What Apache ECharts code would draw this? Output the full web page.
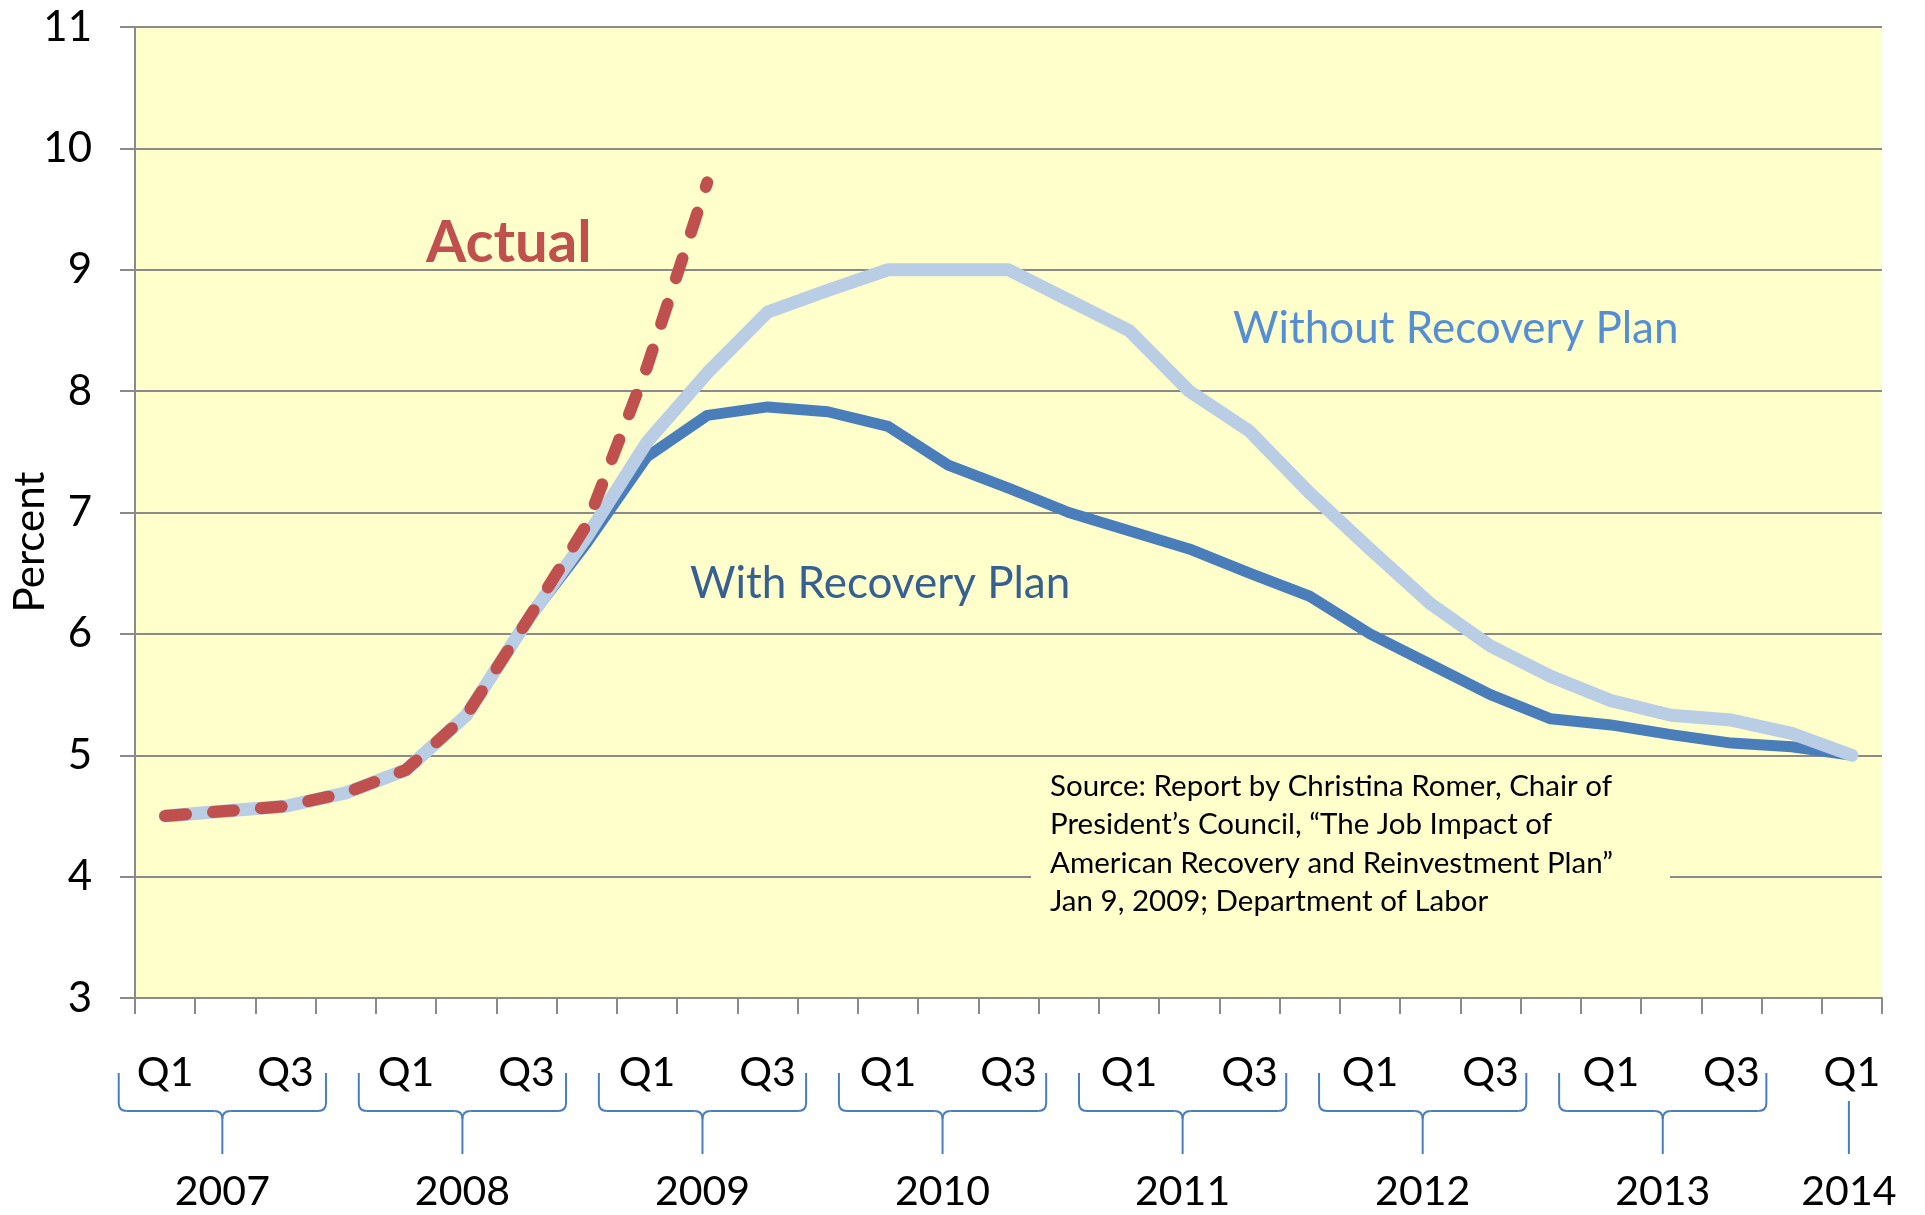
<!DOCTYPE html>
<html>
<head>
<meta charset="utf-8">
<script src="https://cdn.jsdelivr.net/npm/echarts@6/dist/echarts.min.js"></script>
<style>
  html, body { margin: 0; padding: 0; background: #fff; }
  #chart { width: 1925px; height: 1215px; }
</style>
</head>
<body>
<div id="chart"></div>
<script>
// quarters, 2007 Q1 .. 2014 Q1
const categories = [
  '2007 Q1', '2007 Q2', '2007 Q3', '2007 Q4',
  '2008 Q1', '2008 Q2', '2008 Q3', '2008 Q4',
  '2009 Q1', '2009 Q2', '2009 Q3', '2009 Q4',
  '2010 Q1', '2010 Q2', '2010 Q3', '2010 Q4',
  '2011 Q1', '2011 Q2', '2011 Q3', '2011 Q4',
  '2012 Q1', '2012 Q2', '2012 Q3', '2012 Q4',
  '2013 Q1', '2013 Q2', '2013 Q3', '2013 Q4',
  '2014 Q1'
]

// unemployment rate, percent
const withoutPlan = [
  4.5, 4.54, 4.58, 4.69, 4.88, 5.33, 6.1, 6.8,
  7.58, 8.15, 8.65, 8.83, 9.0, 9.0, 9.0, 8.75,
  8.5, 8.0, 7.67, 7.16, 6.7, 6.25, 5.9, 5.65,
  5.45, 5.33, 5.29, 5.18, 5.0
]
const withPlan = [
  4.5, 4.54, 4.58, 4.69, 4.88, 5.33, 6.1, 6.75,
  7.46, 7.8, 7.87, 7.83, 7.71, 7.39, 7.2, 7.0,
  6.85, 6.7, 6.5, 6.31, 6.0, 5.75, 5.5, 5.3,
  5.25, 5.17, 5.1, 5.07, 5.0
]
const actual = [4.5, 4.54, 4.58, 4.69, 4.88, 5.33, 6.1, 6.9, 8.2, 9.72]

// year labels under the quarter labels (anchor quarter, has brace)
const yearNames = ['2007', '2008', '2009', '2010', '2011', '2012', '2013', '2014']
const yearAnchors = ['2007 Q2', '2008 Q2', '2009 Q2', '2010 Q2', '2011 Q2', '2012 Q2', '2013 Q2', '2014 Q1']
const yearBraces = [1, 1, 1, 1, 1, 1, 1, 0]

const sourceLines = [
  'Source: Report by Christina Romer, Chair of',
  'President\u2019s Council, \u201cThe Job Impact of',
  'American Recovery and Reinvestment Plan\u201d',
  'Jan 9, 2009; Department of Labor'
]

const FONT = 'Lato, "Open Sans", sans-serif'
const GRAY = '#8a8a8a'
const BRACE = '#4A7EBB'

const renderYear = (params, api) => {
  const p = api.coord([api.value(0), 3])
  const w = api.size([1, 0])[0]
  const y0 = p[1]
  const top = y0 + 75
  const mid = y0 + 113
  const tip = y0 + 156
  const r = 8
  const st = { stroke: BRACE, lineWidth: 2, fill: null }
  if (!api.value(2)) {
    const x = p[0] - 3
    return {
      type: 'group',
      children: [
        { type: 'line', shape: { x1: x, y1: y0 + 103, x2: x, y2: tip }, style: st },
        yearText(params.dataIndex, x, y0)
      ]
    }
  }
  // excel's brace sits a touch left of the Q2 centre
  const cx = p[0] - 0.05 * w - 0.9 * params.dataIndex
  const L = cx - 1.72 * w
  const R = cx + 1.72 * w
  return {
    type: 'group',
    children: [
      { type: 'line', shape: { x1: L, y1: top, x2: L, y2: mid - r }, style: st },
      { type: 'bezierCurve', shape: { x1: L, y1: mid - r, x2: L + r, y2: mid, cpx1: L, cpy1: mid }, style: st },
      { type: 'line', shape: { x1: L + r, y1: mid, x2: cx - r, y2: mid }, style: st },
      { type: 'bezierCurve', shape: { x1: cx - r, y1: mid, x2: cx, y2: mid + r, cpx1: cx, cpy1: mid }, style: st },
      { type: 'line', shape: { x1: cx, y1: mid + r, x2: cx, y2: tip }, style: st },
      { type: 'bezierCurve', shape: { x1: cx + r, y1: mid, x2: cx, y2: mid + r, cpx1: cx, cpy1: mid }, style: st },
      { type: 'line', shape: { x1: cx + r, y1: mid, x2: R - r, y2: mid }, style: st },
      { type: 'bezierCurve', shape: { x1: R - r, y1: mid, x2: R, y2: mid - r, cpx1: R, cpy1: mid }, style: st },
      { type: 'line', shape: { x1: R, y1: mid - r, x2: R, y2: top }, style: st },
      yearText(params.dataIndex, cx, y0)
    ]
  }
}

const yearText = (i, x, y0) => ({
  type: 'text',
  style: {
    text: yearNames[i],
    x: x,
    y: y0 + 194,
    align: 'center',
    verticalAlign: 'middle',
    fontSize: 41,
    fontFamily: FONT,
    fill: '#000'
  }
})

const option = {
  animation: false,
  backgroundColor: '#fff',
  textStyle: { fontFamily: FONT },
  grid: {
    left: 135,
    right: 43,
    top: 27,
    bottom: 217,
    show: true,
    backgroundColor: '#FFFFCC',
    borderWidth: 0
  },
  xAxis: {
    type: 'category',
    data: categories,
    boundaryGap: true,
    axisLine: { lineStyle: { color: GRAY, width: 2 } },
    axisTick: { show: true, interval: 0, length: 16, lineStyle: { color: GRAY, width: 2 } },
    axisLabel: {
      interval: (index) => index % 2 === 0,
      formatter: (value) => value.split(' ')[1],
      margin: 54,
      color: '#000',
      fontSize: 41,
      fontFamily: FONT
    },
    splitLine: { show: false }
  },
  yAxis: {
    type: 'value',
    min: 3,
    max: 11,
    interval: 1,
    axisLine: { show: true, lineStyle: { color: GRAY, width: 2 } },
    axisTick: { show: true, length: 15, lineStyle: { color: GRAY, width: 2 } },
    axisLabel: { margin: 43, color: '#000', fontSize: 42, fontFamily: FONT },
    splitLine: { lineStyle: { color: GRAY, width: 2 } }
  },
  graphic: [
    {
      type: 'text',
      x: 30,
      y: 542,
      rotation: Math.PI / 2,
      style: { text: 'Percent', fontSize: 42, fontFamily: FONT, fill: '#000', align: 'center', verticalAlign: 'middle' }
    },
    {
      type: 'text',
      x: 426,
      y: 243,
      z: 10,
      style: { text: 'Actual', fontSize: 58, fontWeight: 'bold', fontFamily: FONT, fill: '#C0504D', verticalAlign: 'middle' }
    },
    {
      type: 'text',
      x: 1233,
      y: 329,
      z: 10,
      style: { text: 'Without Recovery Plan', fontSize: 44, fontFamily: FONT, fill: '#558ED5', verticalAlign: 'middle' }
    },
    {
      type: 'text',
      x: 690,
      y: 584,
      z: 10,
      style: { text: 'With Recovery Plan', fontSize: 44, fontFamily: FONT, fill: '#376092', verticalAlign: 'middle' }
    },
    {
      type: 'rect',
      z: 10,
      shape: { x: 1031, y: 764, width: 639, height: 163 },
      style: { fill: '#FFFFCC' }
    },
    {
      type: 'text',
      x: 1050,
      y: 767,
      z: 11,
      style: {
        text: sourceLines.join('\n'),
        fontSize: 29.5,
        lineHeight: 38.5,
        fontFamily: FONT,
        fill: '#000'
      }
    }
  ],
  series: [
    {
      name: 'With Recovery Plan',
      type: 'line',
      data: withPlan,
      symbol: 'none',
      lineStyle: { color: '#4A7EBB', width: 11, cap: 'round', join: 'round' }
    },
    {
      name: 'Without Recovery Plan',
      type: 'line',
      data: withoutPlan,
      symbol: 'none',
      lineStyle: { color: '#B9CDE5', width: 13, cap: 'round', join: 'round' }
    },
    {
      name: 'Actual',
      type: 'line',
      data: actual,
      symbol: 'none',
      lineStyle: { color: '#C0504D', width: 12, type: [21, 27], cap: 'round', join: 'round' }
    },
    {
      name: 'years',
      type: 'custom',
      silent: true,
      clip: false,
      encode: { x: 0, y: 1 },
      data: yearAnchors.map((c, i) => [c, 3, yearBraces[i]]),
      renderItem: renderYear
    }
  ]
}

const myChart = echarts.init(document.getElementById('chart'))
myChart.setOption(option)
</script>
</body>
</html>
